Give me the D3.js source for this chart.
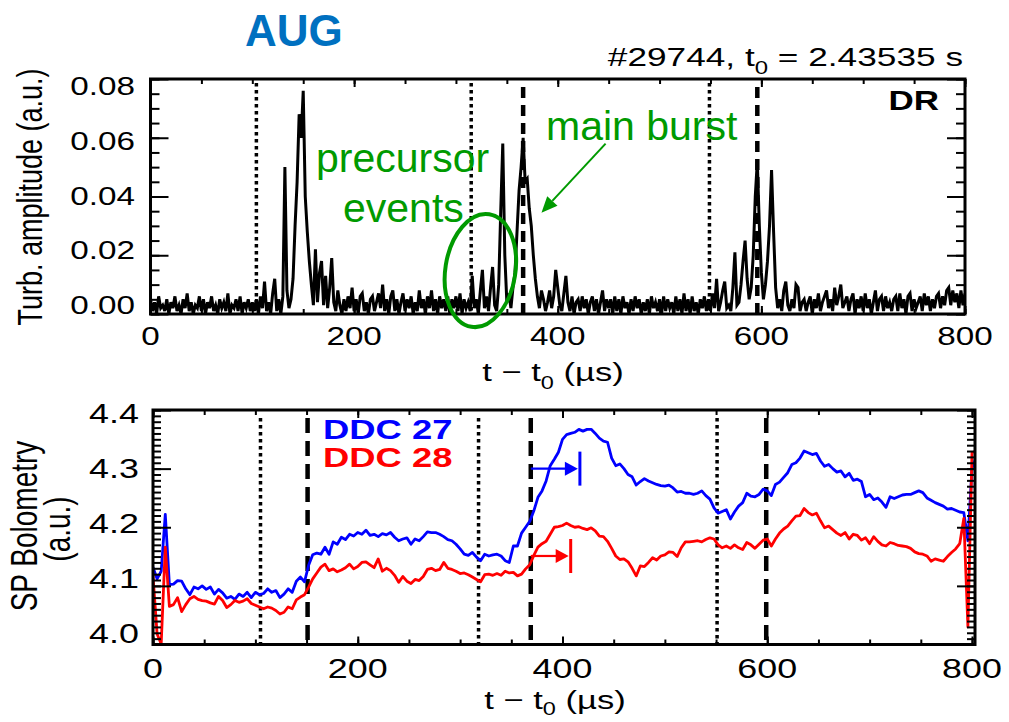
<!DOCTYPE html>
<html><head><meta charset="utf-8">
<script src="https://cdn.jsdelivr.net/npm/d3@7"></script>
<style>html,body{margin:0;padding:0;background:#fff;}svg{display:block;font-family:"Liberation Sans",Arial,sans-serif;}</style>
</head><body><svg id="c" width="1009" height="722"></svg>
<script>
// ---------- DATA ----------
// Turbulence amplitude (DR), in units of 1e-3 a.u., sampled every 2 µs from t - t0 = 0
const turbDt = 2;
const turbAmpMilli = [
5,1,4,0,6,2,3,1,5,0, 4,2,6,1,3,0,5,2,7,1, 4,0,3,2,6,1,5,0,4,2, 6,1,3,0,5,2,4,1,7,0, 3,2,5,1,6,0,4,2,5,1,
4,1,5,0,6,2,11,1,4,0,7,12,1,5,0,
6,50,8,2,5,12,30,45,68,60, 76,40,28,18,10,3,22,4,14,18, 3,13,2,9,19,4,1,8,
3,0,5,1,6,2,9,1,5,0, 6,7,1,4,0,5,6,1,4,7, 2,10,1,5,0,6,8,1,5,0, 4,7,1,5,2,6,0,4,1,8, 2,5,0,6,2,8,1,5,0,6, 2,5,1,6,0,5,2,6,1,7, 0,5,2,
4,1,13,2,5,0,8,15,2,6, 1,9,16,3,1,10,35,58,20,4, 7,2,9,14,28,42,50,60,45,46, 36,30,20,12,6,2,8,
5,1,4,8,2,6,15,9,3,1, 7,13,4,1,6,0,4,5,1,6, 2,5,0,4,6,1,5,0,4,8, 1,5,
2,5,0,6,1,5,0,6,2,4, 0,5,1,6,2,5,0,4,1,5, 0,6,2,4,1,5,0,6,1,5, 2,4,0,6,1,5,0,7,1,5, 0,6,1,4,0,5,2,6,1,
5,1,7,2,12,1,4,8,11,2, 3,1,9,21,3,4,10,18,25,12, 5,9,20,40,52,30,14,5,10,18, 30,49,28,9,2,5,1,8,11,3, 1,5,2,10,9,1,4,
5,1,4,6,0,5,2,7,1,4, 6,8,2,5,1,9,3,6,10,2, 4,6,1,5,7,0,5,2,6,1, 7,2,5,0,4,8,1,5,6,1, 6,2,4,1,5,6,1,7,2,5, 0,6,7,1,5,2,4,6,1,7, 3,6,1,5,2,6,7,2,6,3, 8,9,3,8,4,7,2,8,3,7
];
// SP bolometry (a.u.), sampled every 4 µs from t - t0 = 0
const boloDt = 4;
const ddc27 = [
4.132,4.112,4.125,4.222,4.102,4.103,4.109,4.108,4.095,4.085,
4.098,4.095,4.100,4.094,4.098,4.086,4.094,4.088,4.079,4.082,
4.077,4.086,4.082,4.089,4.080,4.089,4.085,4.087,4.095,4.089,
4.092,4.080,4.086,4.095,4.089,4.108,4.115,4.107,4.135,4.153,
4.156,4.154,4.166,4.154,4.175,4.171,4.183,4.179,4.188,4.185,
4.191,4.188,4.195,4.186,4.188,4.184,4.189,4.187,4.191,4.183,
4.177,4.180,4.182,4.171,4.180,4.177,4.184,4.192,4.191,4.191,
4.188,4.184,4.179,4.177,4.171,4.163,4.154,4.152,4.157,4.149,
4.143,4.154,4.151,4.153,4.154,4.151,4.143,4.140,4.168,4.168,
4.190,4.200,4.210,4.228,4.251,4.262,4.279,4.305,4.316,4.328,
4.350,4.358,4.360,4.362,4.367,4.364,4.367,4.367,4.360,4.352,
4.347,4.345,4.318,4.305,4.308,4.300,4.290,4.286,4.272,4.278,
4.283,4.279,4.276,4.273,4.271,4.270,4.272,4.267,4.260,4.261,
4.258,4.258,4.256,4.258,4.262,4.254,4.248,4.233,4.224,4.227,
4.230,4.214,4.226,4.236,4.242,4.258,4.253,4.252,4.256,4.265,
4.262,4.254,4.273,4.277,4.285,4.293,4.307,4.310,4.318,4.330,
4.327,4.324,4.326,4.313,4.304,4.307,4.300,4.294,4.296,4.286,
4.292,4.280,4.282,4.278,4.252,4.256,4.247,4.250,4.243,4.234,
4.252,4.249,4.252,4.255,4.256,4.256,4.259,4.262,4.259,4.250,
4.246,4.242,4.239,4.236,4.231,4.232,4.229,4.226,4.225,4.177,
4.300,4.320
];
const ddc28 = [
4.117,4.018,4.001,4.166,4.065,4.068,4.080,4.056,4.068,4.078,
4.082,4.077,4.075,4.074,4.071,4.069,4.082,4.075,4.063,4.068,
4.075,4.072,4.074,4.078,4.070,4.067,4.064,4.061,4.064,4.062,
4.058,4.052,4.055,4.064,4.061,4.076,4.081,4.085,4.098,4.112,
4.122,4.132,4.137,4.126,4.129,4.124,4.127,4.131,4.137,4.129,
4.133,4.140,4.141,4.136,4.131,4.146,4.125,4.130,4.126,4.118,
4.106,4.116,4.108,4.104,4.111,4.109,4.116,4.128,4.130,4.126,
4.128,4.140,4.130,4.128,4.125,4.121,4.122,4.119,4.115,4.111,
4.107,4.119,4.120,4.118,4.121,4.118,4.125,4.122,4.123,4.117,
4.120,4.129,4.136,4.152,4.166,4.172,4.176,4.188,4.200,4.201,
4.203,4.207,4.203,4.200,4.201,4.198,4.196,4.199,4.194,4.185,
4.184,4.176,4.164,4.151,4.145,4.146,4.141,4.130,4.117,4.134,
4.133,4.140,4.148,4.144,4.151,4.153,4.158,4.157,4.150,4.165,
4.175,4.175,4.176,4.177,4.175,4.179,4.182,4.180,4.170,4.165,
4.168,4.164,4.170,4.165,4.162,4.174,4.170,4.164,4.171,4.178,
4.180,4.168,4.180,4.190,4.197,4.202,4.211,4.219,4.220,4.232,
4.225,4.221,4.224,4.211,4.199,4.202,4.196,4.190,4.186,4.191,
4.180,4.188,4.186,4.178,4.182,4.172,4.184,4.176,4.170,4.168,
4.174,4.172,4.169,4.168,4.167,4.164,4.158,4.155,4.154,4.151,
4.142,4.146,4.144,4.142,4.150,4.157,4.163,4.172,4.215,4.030,
4.327,4.330
];
const topDotted = [104, 315, 549];
const topDashed = [366, 596];
const botDotted = [105, 318, 551];
const botDashed = [151, 369, 599];
const xTickValues = [0, 200, 400, 600, 800];
const topYTickValues = [0, 0.02, 0.04, 0.06, 0.08];
const topYTickLabels = ["0.00", "0.02", "0.04", "0.06", "0.08"];
const botYTickValues = [4.0, 4.1, 4.2, 4.3, 4.4];
const botYTickLabels = ["4.0", "4.1", "4.2", "4.3", "4.4"];
const legendNames = ["DDC 27", "DDC 28"];
const seriesColors = ["#0000ff", "#ff0000"];
const lagArrows = [ {from: 369, to: 417, level: 4.300, color: "#0000ff"},
                    {from: 369, to: 408, level: 4.151, color: "#ff0000"} ];
const burstArrow = {fromT: 447, fromV: 0.058, toT: 384, toV: 0.0345};
const precursorEllipse = {t: 324, v: 0.0148};

// ---------- DRAW ----------
const svg = d3.select("#c");
const SX = 1.33; // horizontal stretch of chart lettering
const GREEN = "#009a00";

function stext(g, x, y, parts, o) {
  const sx = o.sx || SX;
  const tr = `translate(${x},${y})` + (o.rot ? ` rotate(-90) scale(1,${sx})` : ` scale(${sx},1)`);
  const t = g.append("text").attr("transform", tr).attr("font-size", o.size)
    .attr("text-anchor", o.anchor || "start").attr("font-weight", o.weight || "normal")
    .attr("fill", o.fill || "#000");
  if (o.dy) t.attr("dy", o.dy);
  if (typeof parts === "string") parts = [{t: parts}];
  parts.forEach(p => {
    const s = t.append("tspan").text(p.t);
    if (p.sub) s.attr("font-size", o.size * 0.68).attr("dy", o.size * (o.subDy || 0.32));
    else if (p.after) s.attr("dy", -o.size * (o.subDy || 0.32));
  });
  return t;
}

// ===== TOP PANEL =====
const xTop = d3.scaleLinear([0, 800], [150.5, 965]);
const yTop = d3.scaleLinear([0, 0.08], [314, 79]);
const yTopLab = d3.scaleLinear([0, 0.08], [305, 86]);
const gT = svg.append("g");
svg.append("clipPath").attr("id", "clipT").append("rect")
  .attr("x", xTop(0)).attr("y", yTop(0.08)).attr("width", xTop(800) - xTop(0)).attr("height", yTop(0) - yTop(0.08));

gT.selectAll(".vd").data(topDotted).join("line")
  .attr("x1", d => xTop(d)).attr("x2", d => xTop(d)).attr("y1", yTop(0.08) + 4).attr("y2", yTop(0))
  .attr("stroke", "#000").attr("stroke-width", 3.5).attr("stroke-dasharray", "3.5,3.5");
gT.selectAll(".vD").data(topDashed).join("line")
  .attr("x1", d => xTop(d)).attr("x2", d => xTop(d)).attr("y1", yTop(0.08) + 8).attr("y2", yTop(0))
  .attr("stroke", "#000").attr("stroke-width", 4.5).attr("stroke-dasharray", "11,7");

const turbAmp = turbAmpMilli.map(v => v / 1000);
gT.append("path").datum(turbAmp).attr("clip-path", "url(#clipT)")
  .attr("d", d3.line().x((d, i) => xTop(i * turbDt)).y(d => yTop(d)))
  .attr("fill", "none").attr("stroke", "#000").attr("stroke-width", 3).attr("stroke-linejoin", "miter");

function frameAxes(g, xs, ys, yMinor, yMajor, xMinor, xMajor, yLen, yMinLen) {
  const [x0, x1] = xs.range(), [y0, y1] = ys.range();
  const styl = a => { a.select(".domain").remove(); a.selectAll("line").attr("stroke-width", 2).attr("stroke", "#000"); };
  g.append("g").attr("transform", `translate(${x0},0)`).call(d3.axisLeft(ys).tickValues(yMinor).tickSize(-yMinLen).tickFormat("")).call(styl);
  g.append("g").attr("transform", `translate(${x0},0)`).call(d3.axisLeft(ys).tickValues(yMajor).tickSize(-yLen).tickFormat("")).call(styl);
  g.append("g").attr("transform", `translate(${x1},0)`).call(d3.axisRight(ys).tickValues(yMinor).tickSize(-yMinLen).tickFormat("")).call(styl);
  g.append("g").attr("transform", `translate(${x1},0)`).call(d3.axisRight(ys).tickValues(yMajor).tickSize(-yLen).tickFormat("")).call(styl);
  g.append("g").attr("transform", `translate(0,${y0})`).call(d3.axisBottom(xs).tickValues(xMinor).tickSize(-5).tickFormat("")).call(styl);
  g.append("g").attr("transform", `translate(0,${y0})`).call(d3.axisBottom(xs).tickValues(xMajor).tickSize(-8).tickFormat("")).call(styl);
  g.append("g").attr("transform", `translate(0,${y1})`).call(d3.axisTop(xs).tickValues(xMinor).tickSize(-5).tickFormat("")).call(styl);
  g.append("g").attr("transform", `translate(0,${y1})`).call(d3.axisTop(xs).tickValues(xMajor).tickSize(-8).tickFormat("")).call(styl);
  g.append("rect").attr("x", x0).attr("y", y1).attr("width", x1 - x0).attr("height", y0 - y1)
    .attr("fill", "none").attr("stroke", "#000").attr("stroke-width", 3);
}
const xMinorT = d3.range(0, 801, 50);
frameAxes(gT, xTop, yTop, d3.range(0, 0.0801, 0.005), topYTickValues, xMinorT, xTickValues, 18, 9);

topYTickValues.forEach((v, i) => stext(gT, 135, yTopLab(v), topYTickLabels[i], {size: 25, anchor: "end", dy: "0.36em"}));
xTickValues.forEach(v => stext(gT, xTop(v), 345, String(v), {size: 25, anchor: "middle"}));
stext(gT, 553, 381, [{t: "t \u2212 t"}, {t: "0", sub: true}, {t: " (\u00b5s)", after: true}], {size: 26, anchor: "middle"});
stext(gT, 42, 197, "Turb. amplitude (a.u.)", {size: 27, anchor: "middle", rot: true});
stext(gT, 963, 66, [{t: "#29744, t"}, {t: "0", sub: true}, {t: " = 2.43535 s", after: true}], {size: 26.5, anchor: "end"});
stext(gT, 939, 110, "DR", {size: 28, anchor: "end", weight: "bold", sx: 1.25});

// annotations
svg.append("text").attr("x", 245).attr("y", 46).attr("font-size", 44).attr("font-weight", "bold")
  .attr("fill", "#0070c0").text("AUG");
const ann = svg.append("g").attr("fill", GREEN);
ann.append("text").attr("x", 316).attr("y", 172).attr("font-size", 41).text("precursor");
ann.append("text").attr("x", 343).attr("y", 222).attr("font-size", 41).text("events");
ann.append("text").attr("x", 546).attr("y", 140).attr("font-size", 41).text("main burst");
const ex = xTop(precursorEllipse.t), ey = yTop(precursorEllipse.v);
ann.append("ellipse").attr("cx", 0).attr("cy", 0).attr("rx", 35).attr("ry", 57)
  .attr("transform", `translate(${ex},${ey}) rotate(9)`)
  .attr("fill", "none").attr("stroke", GREEN).attr("stroke-width", 4);
{
  const ax0 = xTop(burstArrow.fromT), ay0 = yTop(burstArrow.fromV);
  const ax1 = xTop(burstArrow.toT), ay1 = yTop(burstArrow.toV);
  const ang = Math.atan2(ay1 - ay0, ax1 - ax0), L = 16, Wd = 7;
  const bx = ax1 - L * Math.cos(ang), by = ay1 - L * Math.sin(ang);
  ann.append("line").attr("x1", ax0).attr("y1", ay0).attr("x2", bx).attr("y2", by)
    .attr("stroke", GREEN).attr("stroke-width", 2);
  ann.append("polygon").attr("points", [[ax1, ay1],
    [bx + Wd * Math.sin(ang), by - Wd * Math.cos(ang)], [bx - Wd * Math.sin(ang), by + Wd * Math.cos(ang)]].map(p => p.join(",")).join(" "));
}

// ===== BOTTOM PANEL =====
const xBot = d3.scaleLinear([0, 800], [153, 972]);
const yBot = d3.scaleLinear([4.0, 4.4], [644.5, 410]);
const yBotLab = d3.scaleLinear([4.0, 4.4], [633, 413]);
const xEndB = 975;
const gB = svg.append("g");
svg.append("clipPath").attr("id", "clipB").append("rect")
  .attr("x", xBot(0)).attr("y", yBot(4.4)).attr("width", xEndB - xBot(0)).attr("height", yBot(4.0) - yBot(4.4));

gB.selectAll(".vd").data(botDotted).join("line")
  .attr("x1", d => xBot(d)).attr("x2", d => xBot(d)).attr("y1", yBot(4.4) + 8).attr("y2", yBot(4.0))
  .attr("stroke", "#000").attr("stroke-width", 3.5).attr("stroke-dasharray", "3.5,3.5");
gB.selectAll(".vD").data(botDashed).join("line")
  .attr("x1", d => xBot(d)).attr("x2", d => xBot(d)).attr("y1", yBot(4.4) + 8).attr("y2", yBot(4.0))
  .attr("stroke", "#000").attr("stroke-width", 4.5).attr("stroke-dasharray", "15,8");

const boloLine = d3.line().x((d, i) => xBot(i * boloDt)).y(d => yBot(d));
[ddc27, ddc28].forEach((s, k) => {
  gB.append("path").datum(s).attr("clip-path", "url(#clipB)").attr("d", boloLine)
    .attr("fill", "none").attr("stroke", seriesColors[k]).attr("stroke-width", 2.8).attr("stroke-linejoin", "round");
});

// lag arrows
lagArrows.forEach(a => {
  const x0 = xBot(a.from), x1 = xBot(a.to), y = yBot(a.level);
  gB.append("line").attr("x1", x0).attr("x2", x1 - 12).attr("y1", y).attr("y2", y).attr("stroke", a.color).attr("stroke-width", 2.2);
  gB.append("polygon").attr("points", `${x1 - 2},${y} ${x1 - 15},${y - 7} ${x1 - 15},${y + 7}`).attr("fill", a.color);
  gB.append("line").attr("x1", x1).attr("x2", x1).attr("y1", y - 17).attr("y2", y + 17).attr("stroke", a.color).attr("stroke-width", 3);
});

const xBotFrame = d3.scaleLinear([0, 800 * (xEndB - 153) / (972 - 153)], [153, xEndB]);
frameAxes(gB, xBotFrame, yBot, d3.range(4.0, 4.4001, 0.01), botYTickValues, xMinorT, xTickValues, 18, 8);

botYTickValues.forEach((v, i) => stext(gB, 139, yBotLab(v), botYTickLabels[i], {size: 27, anchor: "end", dy: "0.36em"}));
xTickValues.forEach(v => stext(gB, xBot(v), 678, String(v), {size: 27, anchor: "middle"}));
stext(gB, 555, 709, [{t: "t \u2212 t"}, {t: "0", sub: true}, {t: " (\u00b5s)", after: true}], {size: 26, anchor: "middle", subDy: 0.22});
stext(gB, 37, 526, "SP Bolometry", {size: 28, anchor: "middle", rot: true});
stext(gB, 70, 529, "(a.u.)", {size: 28, anchor: "middle", rot: true});
legendNames.forEach((n, k) => stext(gB, 323, 439 + 28 * k, n, {size: 28, weight: "bold", fill: seriesColors[k], sx: 1.3}));
</script></body></html>
